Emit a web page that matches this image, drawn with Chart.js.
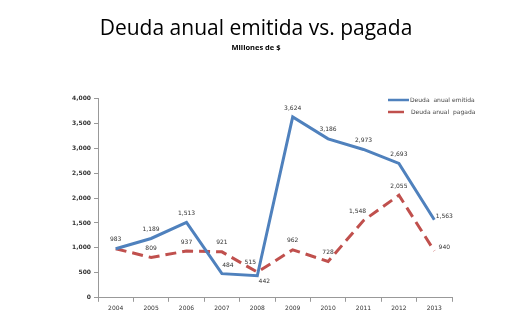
<!DOCTYPE html>
<html>
<head>
<meta charset="utf-8">
<script src="https://cdn.jsdelivr.net/npm/chart.js@4"></script>
<style>
  html, body { margin: 0; padding: 0; background: #fff; }
  #wrap { width: 518px; height: 325px; }
</style>
</head>
<body>
<div id="wrap"><canvas id="deudaChart" width="518" height="325"></canvas></div>
<script>
const years = ["2004", "2005", "2006", "2007", "2008", "2009", "2010", "2011", "2012", "2013"];
const emitida = [983, 1189, 1513, 484, 442, 3624, 3186, 2973, 2693, 1563];
const pagada = [983, 809, 937, 921, 515, 962, 728, 1548, 2055, 940];
const yTicks = [0, 500, 1000, 1500, 2000, 2500, 3000, 3500, 4000];

const blue = "#4F81BD";
const red = "#C0504D";
const fmt = (v) => v.toLocaleString("en-US");

// where each value label sits relative to its point: [dx, dy]
const emitidaLabelPos = [[0, -9], [0, -9], [0, -9], [6, -8], [7, 6], [0, -9], [0, -9], [0, -9], [0, -9], [10, -3]];
const pagadaLabelPos = [null, [0, -9], [0, -9], [0, -9], [-7, -10], [0, -9], [0, -9], [-6, -9], [0, -9], [10, -3]];

const valueLabels = {
  id: "valueLabels",
  afterDatasetsDraw(chart) {
    const ctx = chart.ctx;
    ctx.save();
    ctx.font = "6px 'DejaVu Sans'";
    ctx.fillStyle = "#333";
    ctx.textAlign = "center";
    ctx.textBaseline = "middle";
    const sets = [[0, emitidaLabelPos], [1, pagadaLabelPos]];
    sets.forEach(([di, pos]) => {
      const meta = chart.getDatasetMeta(di);
      meta.data.forEach((pt, i) => {
        if (!pos[i]) return;
        const v = chart.data.datasets[di].data[i];
        ctx.fillText(fmt(v), pt.x + pos[i][0], pt.y + pos[i][1]);
      });
    });
    ctx.restore();
  }
};

const sideLegend = {
  id: "sideLegend",
  afterDraw(chart) {
    const ctx = chart.ctx;
    ctx.save();
    ctx.font = "6px 'DejaVu Sans'";
    ctx.fillStyle = "#444";
    ctx.textBaseline = "middle";
    chart.data.datasets.forEach((ds, i) => {
      const y = 100 + i * 12;
      ctx.strokeStyle = ds.borderColor;
      ctx.lineWidth = 2.5;
      ctx.beginPath();
      ctx.moveTo(388, y);
      ctx.lineTo(i === 0 ? 409 : 404, y);
      ctx.stroke();
      ctx.fillText(ds.label, i === 0 ? 410 : 411, y);
    });
    ctx.restore();
  }
};

new Chart(document.getElementById("deudaChart"), {
  type: "line",
  data: {
    labels: years,
    datasets: [{
      label: "Deuda  anual emitida",
      data: emitida,
      borderColor: blue,
      backgroundColor: blue,
      borderWidth: 3,
      pointRadius: 0,
      tension: 0,
      fill: false
    }, {
      label: "Deuda anual  pagada",
      data: pagada,
      borderColor: red,
      backgroundColor: red,
      borderWidth: 3,
      borderDash: [11, 6],
      pointRadius: 0,
      tension: 0,
      fill: false
    }]
  },
  options: {
    responsive: false,
    animation: false,
    layout: { padding: { left: 60, right: 66, top: 0, bottom: 10 } },
    plugins: {
      legend: { display: false },
      tooltip: { enabled: false },
      title: {
        display: true,
        text: "Deuda anual emitida vs. pagada",
        color: "#000",
        font: { family: "Open Sans", size: 21, weight: "normal" },
        padding: { top: 16, bottom: 2 }
      },
      subtitle: {
        display: true,
        text: "Millones de $",
        color: "#000",
        font: { family: "Open Sans", size: 7.5, weight: "bold" },
        padding: { top: 0, bottom: 46 }
      }
    },
    scales: {
      x: {
        offset: true,
        grid: { display: true, drawOnChartArea: false, drawTicks: true, tickLength: 4, color: "#999", offset: true },
        border: { display: true, color: "#999" },
        ticks: { color: "#333", font: { family: "DejaVu Sans", size: 6 }, padding: 3, maxRotation: 0 }
      },
      y: {
        min: 0,
        max: 4000,
        afterBuildTicks: (axis) => { axis.ticks = yTicks.map((v) => ({ value: v })); },
        afterFit: (axis) => { axis.width = 38; },
        grid: { display: true, drawOnChartArea: false, drawTicks: true, tickLength: 4, color: "#999" },
        border: { display: true, color: "#999" },
        ticks: {
          color: "#333",
          font: { family: "DejaVu Sans", size: 6, weight: "bold" },
          padding: 3,
          callback: (v) => fmt(v)
        }
      }
    }
  },
  plugins: [valueLabels, sideLegend]
});
</script>
</body>
</html>
